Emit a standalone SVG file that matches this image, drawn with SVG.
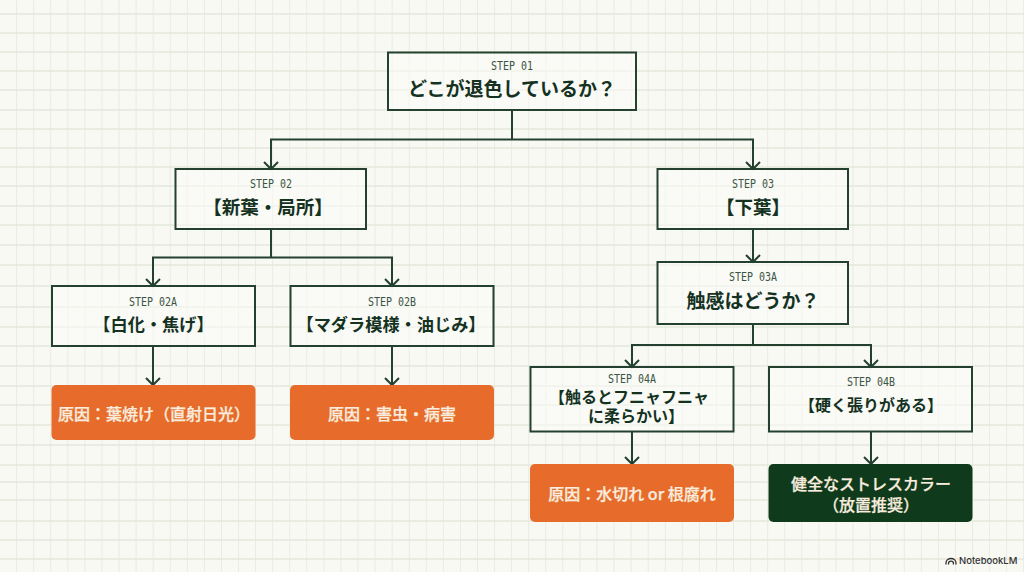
<svg xmlns="http://www.w3.org/2000/svg" width="1024" height="572" viewBox="0 0 1024 572">
<style>
.box{fill:#fbfbf7;fill-opacity:.55;stroke:#24402e;stroke-width:2}
.or{fill:#e76c2c}
.dk{fill:#0f3a1c}
.step{font:12px "DejaVu Sans Mono",monospace;fill:#3a5544;text-anchor:middle}
.ti{font:700 19px "Noto Sans CJK JP",sans-serif;fill:#14321f;text-anchor:middle}
.sm{font:700 17.200px "Noto Sans CJK JP",sans-serif;fill:#14321f;text-anchor:middle}
.xs{font:700 16px "Noto Sans CJK JP",sans-serif;fill:#14321f;text-anchor:middle}
.re{font:500 16px "Noto Sans CJK JP",sans-serif;fill:#f8ecdf;stroke:#f8ecdf;stroke-width:.25;text-anchor:middle}
.con path{fill:none;stroke:#24402e;stroke-width:2}
.grid{stroke:#e4e7dc;stroke-width:1.3;fill:none}
</style>
<defs>
<marker id="a" markerUnits="userSpaceOnUse" markerWidth="14" markerHeight="10" refX="12.5" refY="5" orient="auto" overflow="visible"><path d="M5.500,-2 L12.500,5 L5.500,12" fill="none" stroke="#24402e" stroke-width="2"/></marker>
<pattern id="g" width="17.07" height="572" patternUnits="userSpaceOnUse" x="0" y="0"><path class="grid" d="M17,0V572"/></pattern>
</defs>
<rect width="1024" height="572" fill="#f8f9f3"/>
<rect width="1024" height="572" fill="url(#g)"/>
<path class="grid" d="M0,14H1024M0,33H1024M0,52H1024M0,71H1024M0,90H1024M0,110H1024M0,129H1024M0,148H1024M0,167H1024M0,186H1024M0,206H1024M0,225H1024M0,245H1024M0,265H1024M0,286H1024M0,307H1024M0,327H1024M0,346H1024M0,366H1024M0,386H1024M0,405H1024M0,425H1024M0,445H1024M0,465H1024M0,482H1024M0,500H1024M0,521H1024M0,540H1024M0,559H1024"/>
<g class="con">
<path d="M512,110V139.5"/>
<path d="M512,139.5H271V169" marker-end="url(#a)"/>
<path d="M512,139.5H753V169" marker-end="url(#a)"/>
<path d="M271,229V257.5"/>
<path d="M271,257.5H153V286" marker-end="url(#a)"/>
<path d="M271,257.5H392V286" marker-end="url(#a)"/>
<path d="M153,346V385" marker-end="url(#a)"/>
<path d="M392,346V385" marker-end="url(#a)"/>
<path d="M753,229V262" marker-end="url(#a)"/>
<path d="M753,324V345"/>
<path d="M753,345H632V367" marker-end="url(#a)"/>
<path d="M753,345H871V367" marker-end="url(#a)"/>
<path d="M632,431V464" marker-end="url(#a)"/>
<path d="M871,431V464" marker-end="url(#a)"/>
</g>
<g id="step01"><rect class="box" x="388" y="52.500" width="248" height="57.500"/><text class="step" x="512" y="70" textLength="42" lengthAdjust="spacingAndGlyphs">STEP 01</text><text class="ti" x="512" y="95.500">どこが退色しているか？</text></g>
<g id="step02"><rect class="box" x="175.500" y="169" width="190.500" height="60"/><text class="step" x="271" y="187.500" textLength="42" lengthAdjust="spacingAndGlyphs">STEP 02</text><text class="ti" x="268" y="214" style="font-size:18.500px">【新葉・局所】</text></g>
<g id="step03"><rect class="box" x="657.500" y="169" width="190.500" height="60"/><text class="step" x="753" y="187.500" textLength="42" lengthAdjust="spacingAndGlyphs">STEP 03</text><text class="ti" x="753" y="214" style="font-size:18.500px">【下葉】</text></g>
<g id="step02a"><rect class="box" x="52" y="286" width="203" height="60"/><text class="step" x="153" y="305.500" textLength="48" lengthAdjust="spacingAndGlyphs">STEP 02A</text><text class="sm" x="153.500" y="331">【白化・焦げ】</text></g>
<g id="step02b"><rect class="box" x="290.500" y="286" width="203" height="60"/><text class="step" x="392" y="305.500" textLength="48" lengthAdjust="spacingAndGlyphs">STEP 02B</text><text class="sm" x="391" y="331">【マダラ模様・油じみ】</text></g>
<g id="step03a"><rect class="box" x="657.500" y="262" width="190.500" height="62"/><text class="step" x="753" y="281" textLength="48" lengthAdjust="spacingAndGlyphs">STEP 03A</text><text class="ti" x="753" y="308">触感はどうか？</text></g>
<g id="step04a"><rect class="box" x="530.500" y="367" width="203" height="64.500"/><text class="step" x="632" y="382.500" textLength="48" lengthAdjust="spacingAndGlyphs">STEP 04A</text><text class="xs" x="629" y="403">【触るとフニャフニャ</text><text class="xs" x="636" y="422">に柔らかい】</text></g>
<g id="step04b"><rect class="box" x="769" y="367" width="203" height="64.500"/><text class="step" x="871" y="386" textLength="48" lengthAdjust="spacingAndGlyphs">STEP 04B</text><text class="xs" x="871" y="411">【硬く張りがある】</text></g>
<g id="r1"><rect class="or" x="51.500" y="385" width="204" height="55" rx="5"/><text class="re" x="154" y="419.500">原因：葉焼け（直射日光）</text></g>
<g id="r2"><rect class="or" x="290" y="385" width="204" height="55" rx="5"/><text class="re" x="392" y="419.500">原因：害虫・病害</text></g>
<g id="r3"><rect class="or" x="530" y="464" width="204" height="58" rx="5"/><text class="re" x="632" y="500">原因：水切れ or 根腐れ</text></g>
<g id="r4"><rect class="dk" x="768.500" y="464" width="204" height="58" rx="5"/><text class="re" x="871" y="489.500">健全なストレスカラー</text><text class="re" x="871" y="510.500">（放置推奨）</text></g>
<g id="brand"><path d="M946,564.500v-1.500a5,4.500 0 0 1 10,0v1.500M948.500,564.500v-1a2.500,2.300 0 0 1 5,0v1" fill="none" stroke="#333" stroke-width="1.300"/><text x="959" y="564" font-family="Inter,sans-serif" font-size="9.500" font-weight="500" fill="#333">NotebookLM</text></g>
</svg>
